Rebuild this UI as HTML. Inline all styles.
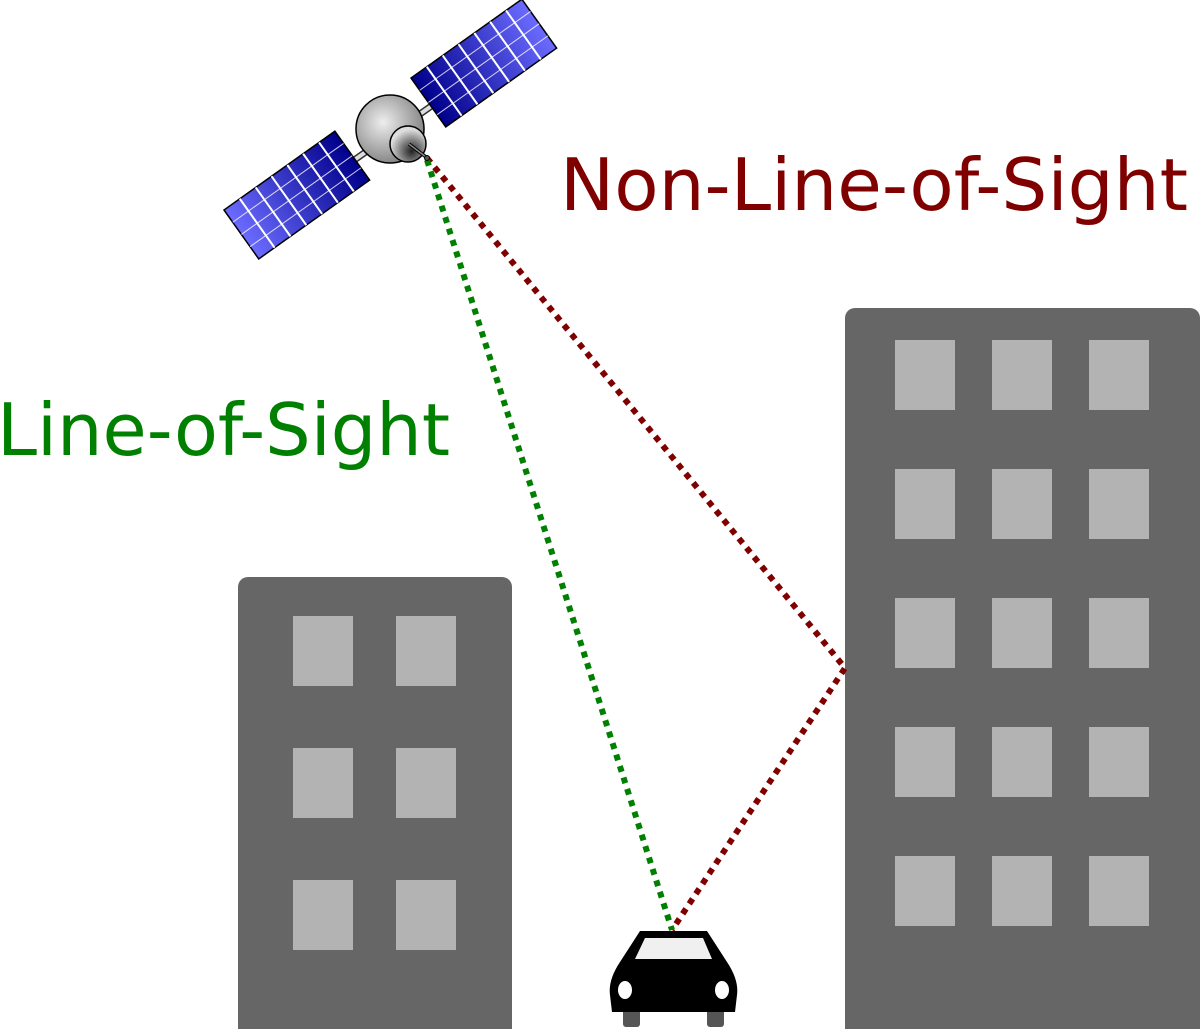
<!DOCTYPE html>
<html><head><meta charset="utf-8"><style>html,body{margin:0;padding:0;background:#fff}svg{display:block}</style></head>
<body>
<svg width="1200" height="1029" viewBox="0 0 1200 1029" xmlns="http://www.w3.org/2000/svg">
<defs>
<linearGradient id="pg" x1="0" y1="0" x2="1" y2="0">
<stop offset="0" stop-color="#6b6bff"/><stop offset="1" stop-color="#00008b"/></linearGradient>
<linearGradient id="pg2" x1="0" y1="0" x2="1" y2="0">
<stop offset="0" stop-color="#00008b"/><stop offset="1" stop-color="#6b6bff"/></linearGradient>
<radialGradient id="bg" cx="0.4" cy="0.4" r="0.6"><stop offset="0" stop-color="#eee"/><stop offset="1" stop-color="#888"/></radialGradient>
<radialGradient id="dg" cx="0.6" cy="0.7" r="0.6"><stop offset="0" stop-color="#222"/><stop offset="1" stop-color="#ddd"/></radialGradient>
</defs>
<rect x="238" y="577" width="274" height="470" rx="10" fill="#666"/>
<g fill="#b3b3b3">
<rect x="293" y="616" width="60" height="70"/><rect x="396" y="616" width="60" height="70"/>
<rect x="293" y="748" width="60" height="70"/><rect x="396" y="748" width="60" height="70"/>
<rect x="293" y="880" width="60" height="70"/><rect x="396" y="880" width="60" height="70"/>
</g>
<rect x="845" y="308" width="355" height="740" rx="10" fill="#666"/>
<g fill="#b3b3b3">
<rect x="895" y="340" width="60" height="70"/><rect x="992" y="340" width="60" height="70"/><rect x="1089" y="340" width="60" height="70"/>
<rect x="895" y="469" width="60" height="70"/><rect x="992" y="469" width="60" height="70"/><rect x="1089" y="469" width="60" height="70"/>
<rect x="895" y="598" width="60" height="70"/><rect x="992" y="598" width="60" height="70"/><rect x="1089" y="598" width="60" height="70"/>
<rect x="895" y="727" width="60" height="70"/><rect x="992" y="727" width="60" height="70"/><rect x="1089" y="727" width="60" height="70"/>
<rect x="895" y="856" width="60" height="70"/><rect x="992" y="856" width="60" height="70"/><rect x="1089" y="856" width="60" height="70"/>
</g>
<polyline points="427,158 845,668 672,930" fill="none" stroke="#800000" stroke-width="6" stroke-dasharray="6 6"/>
<line x1="427" y1="160" x2="672" y2="930" stroke="#008000" stroke-width="6" stroke-dasharray="6 6"/>
<line x1="340" y1="170" x2="440" y2="100" stroke="#333" stroke-width="7"/>
<line x1="340" y1="170" x2="440" y2="100" stroke="#ddd" stroke-width="4"/>
<g transform="translate(224,210) rotate(-35.4)">
<rect x="0" y="0" width="136" height="60" fill="url(#pg)" stroke="#000" stroke-width="1.5"/>
<g stroke="#fff" stroke-width="1" opacity="0.8"><line x1="0" y1="15" x2="136" y2="15"/><line x1="0" y1="30" x2="136" y2="30"/><line x1="0" y1="45" x2="136" y2="45"/></g>
<g stroke="#fff" stroke-width="2"><line x1="19.4" y1="0" x2="19.4" y2="60"/><line x1="38.9" y1="0" x2="38.9" y2="60"/><line x1="58.3" y1="0" x2="58.3" y2="60"/><line x1="77.7" y1="0" x2="77.7" y2="60"/><line x1="97.1" y1="0" x2="97.1" y2="60"/><line x1="116.6" y1="0" x2="116.6" y2="60"/></g>
</g>
<g transform="translate(411,78) rotate(-35.4)">
<rect x="0" y="0" width="136" height="60" fill="url(#pg2)" stroke="#000" stroke-width="1.5"/>
<g stroke="#fff" stroke-width="1" opacity="0.8"><line x1="0" y1="15" x2="136" y2="15"/><line x1="0" y1="30" x2="136" y2="30"/><line x1="0" y1="45" x2="136" y2="45"/></g>
<g stroke="#fff" stroke-width="2"><line x1="19.4" y1="0" x2="19.4" y2="60"/><line x1="38.9" y1="0" x2="38.9" y2="60"/><line x1="58.3" y1="0" x2="58.3" y2="60"/><line x1="77.7" y1="0" x2="77.7" y2="60"/><line x1="97.1" y1="0" x2="97.1" y2="60"/><line x1="116.6" y1="0" x2="116.6" y2="60"/></g>
</g>
<circle cx="390" cy="129" r="34" fill="url(#bg)" stroke="#000" stroke-width="1.5"/>
<circle cx="408" cy="144" r="18" fill="url(#dg)" stroke="#000" stroke-width="1.5"/>
<line x1="409" y1="144" x2="426" y2="157" stroke="#000" stroke-width="3.5"/>
<line x1="409" y1="144" x2="426" y2="157" stroke="#888" stroke-width="1.5"/>
<circle cx="427" cy="158" r="2.5" fill="#555" stroke="#000"/>
<rect x="623" y="1005" width="17" height="22" rx="3" fill="#555"/>
<rect x="707" y="1005" width="17" height="22" rx="3" fill="#555"/>
<path d="M640,931 L707,931 L727,962 Q739,980 737,995 L735,1012 L612,1012 L610,995 Q608,980 620,962 Z" fill="#000"/>
<path d="M645,938 L703,938 L712,959 L635,959 Z" fill="#f0f0f0"/>
<ellipse cx="625" cy="990" rx="7" ry="9" fill="#fff"/>
<ellipse cx="722" cy="990" rx="7" ry="9" fill="#fff"/>
<text x="560" y="210" font-family="DejaVu Sans, Liberation Sans, sans-serif" font-size="72" fill="#800000" textLength="628" lengthAdjust="spacingAndGlyphs">Non-Line-of-Sight</text>
<text x="-3" y="455" font-family="DejaVu Sans, Liberation Sans, sans-serif" font-size="72" fill="#008000" textLength="453" lengthAdjust="spacingAndGlyphs">Line-of-Sight</text>
</svg>
</body></html>
